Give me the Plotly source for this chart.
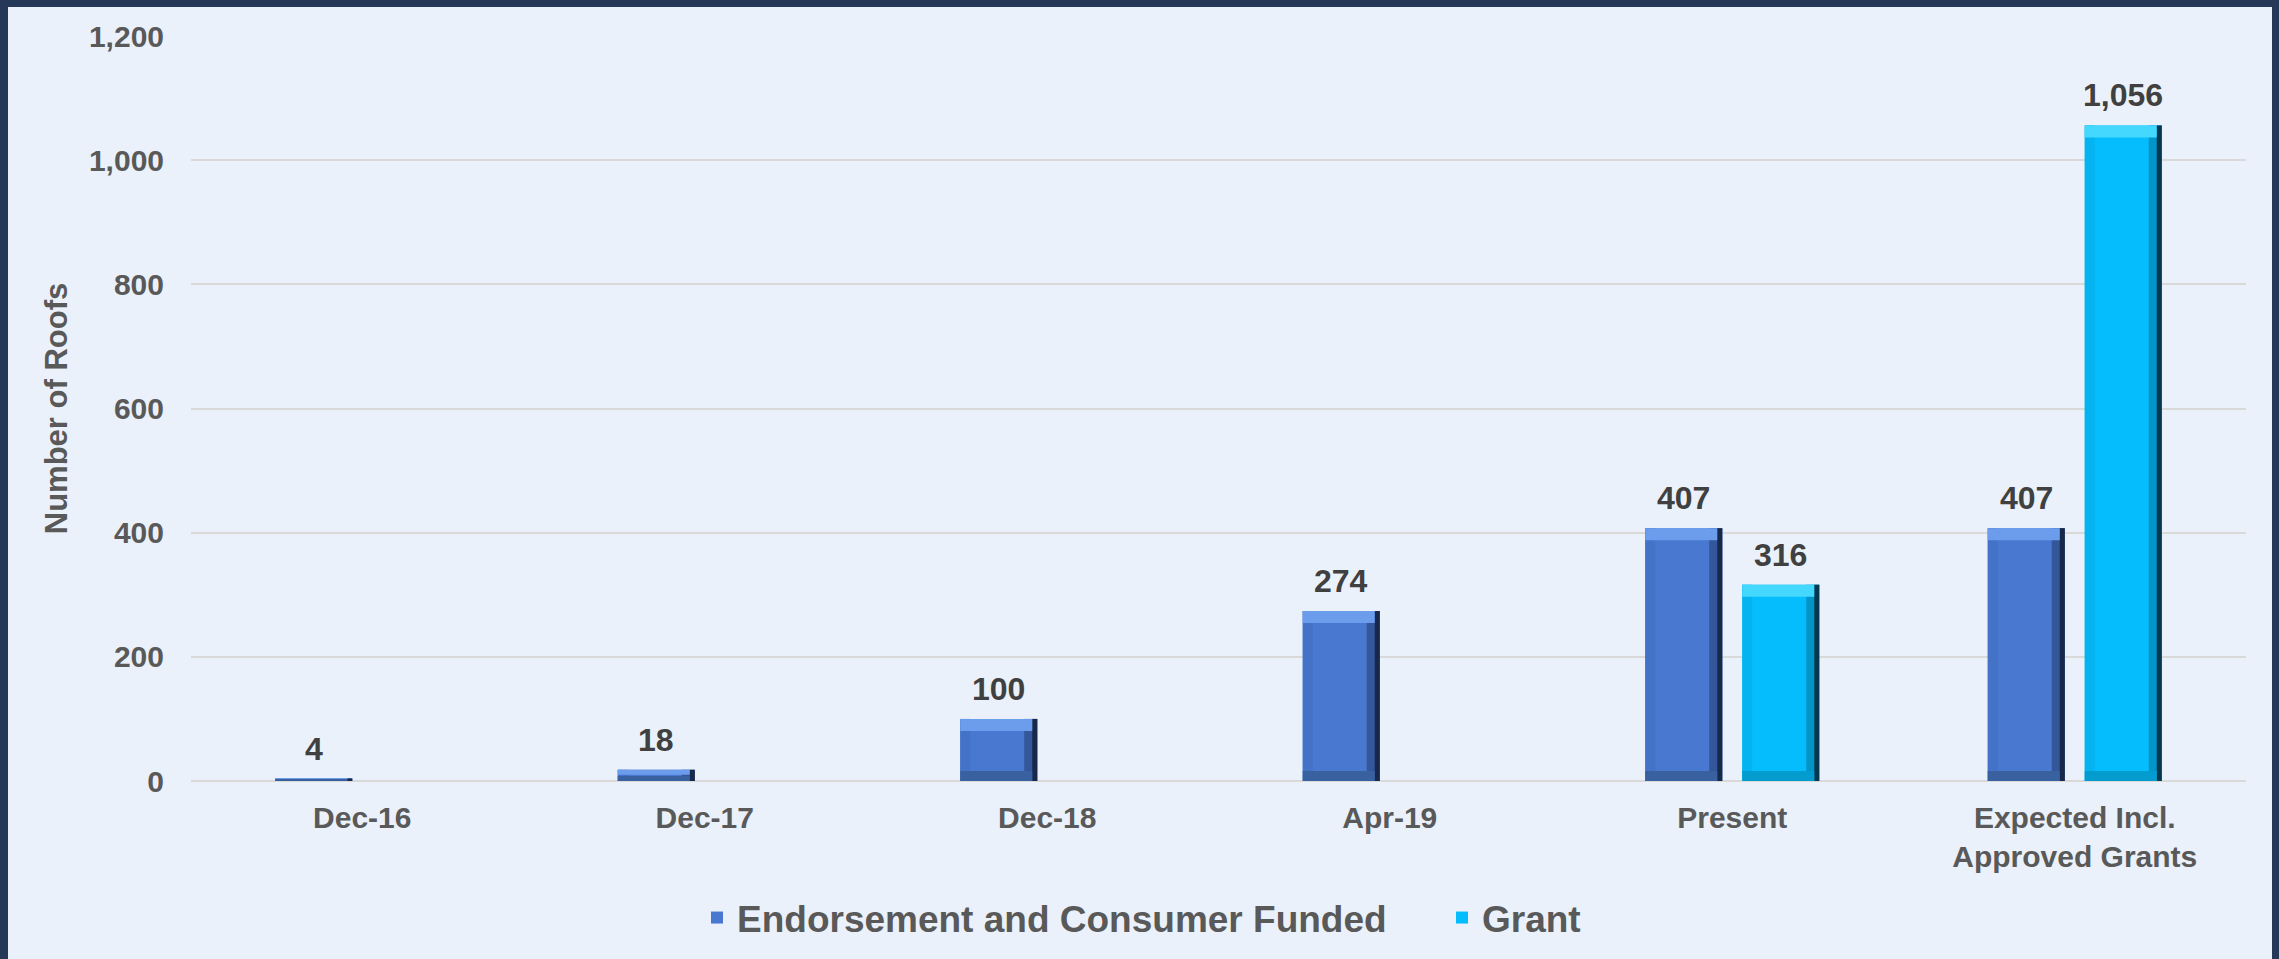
import plotly.graph_objects as go

categories = ["Dec-16", "Dec-17", "Dec-18", "Apr-19", "Present", "Expected Incl.<br>Approved Grants"]
endorsement = [4, 18, 100, 274, 407, 407]
grant = [None, None, None, None, 316, 1056]
series_names = ["Endorsement and Consumer Funded", "Grant"]
y_ticks = [0, 200, 400, 600, 800, 1000, 1200]

W, H = 2279, 959
ML, MR, MT, MB = 191, 33, 36, 178
PW = W - ML - MR
PH = H - MT - MB
YMAX = 1200
CAT_PX = PW / len(categories)
UPP = YMAX / PH  # data units per pixel

BG = "#EAF1FA"
TXT = "#595959"
LBL = "#404040"
FONT = "Liberation Sans, Arial, sans-serif"

styles = [
    dict(base="#4878CF", top="#6C9CEC", left="#4472C7", right="#34569A", edge="#17284A", bottom="#39609F"),
    dict(base="#05BDFC", top="#45D8FF", left="#04B3EF", right="#0394C8", edge="#03384E", bottom="#049BCF"),
]
bar_w_px = 77
offsets_px = [-87, 10]

fig = go.Figure()


def add_bevel_bar(vals, name, st, off_px):
    w = bar_w_px / CAT_PX
    off = off_px / CAT_PX
    xs = [c for c, v in zip(categories, vals) if v is not None]
    vs = [v for v in vals if v is not None]
    # body (legend entry)
    fig.add_trace(go.Bar(x=xs, y=vs, name=name, offset=off, width=w,
                         marker=dict(color=st["base"], line=dict(width=0)),
                         hoverinfo="x+y", showlegend=True))
    # left strip
    fig.add_trace(go.Bar(x=xs, y=vs, offset=off, width=10 / CAT_PX,
                         marker=dict(color=st["left"], line=dict(width=0)),
                         hoverinfo="skip", showlegend=False))
    # right strip
    fig.add_trace(go.Bar(x=xs, y=vs, offset=off + w - 13 / CAT_PX, width=13 / CAT_PX,
                         marker=dict(color=st["right"], line=dict(width=0)),
                         hoverinfo="skip", showlegend=False))
    fig.add_trace(go.Bar(x=xs, y=vs, offset=off + w - 5 / CAT_PX, width=5 / CAT_PX,
                         marker=dict(color=st["edge"], line=dict(width=0)),
                         hoverinfo="skip", showlegend=False))
    # top strip
    th = [min(12 * UPP, v * 0.45) for v in vs]
    fig.add_trace(go.Bar(x=xs, y=th, base=[v - t for v, t in zip(vs, th)], offset=off, width=w - 5 / CAT_PX,
                         marker=dict(color=st["top"], line=dict(width=0)),
                         hoverinfo="skip", showlegend=False))
    # bottom strip
    bh = [min(10 * UPP, v * 0.45) for v in vs]
    fig.add_trace(go.Bar(x=xs, y=bh, base=[0] * len(bh), offset=off, width=w - 5 / CAT_PX,
                         marker=dict(color=st["bottom"], line=dict(width=0)),
                         hoverinfo="skip", showlegend=False))
    # data labels
    for c, v in zip(xs, vs):
        fig.add_annotation(x=c, y=v, text=f"{v:,}", showarrow=False, yanchor="bottom",
                           xshift=off_px + bar_w_px / 2, yshift=10,
                           font=dict(family=FONT, size=32, color=LBL, weight="bold"))


add_bevel_bar(endorsement, series_names[0], styles[0], offsets_px[0])
add_bevel_bar(grant, series_names[1], styles[1], offsets_px[1])

# outer frame (left, top, right)
def px_x(p):
    return (p - ML) / PW

def px_y(p):
    return (H - MB - p) / PH

FRAME = "#263858"
for x0, x1, y0, y1 in [(0, 8, 0, H), (0, W, 0, 7), (2272, W, 0, H)]:
    fig.add_shape(type="rect", xref="paper", yref="paper",
                  x0=px_x(x0), x1=px_x(x1), y0=px_y(y1), y1=px_y(y0),
                  fillcolor=FRAME, line=dict(width=0), layer="above")

fig.update_layout(
    width=W, height=H,
    margin=dict(l=ML, r=MR, t=MT, b=MB, autoexpand=False),
    barmode="overlay",
    paper_bgcolor=BG, plot_bgcolor=BG,
    font=dict(family=FONT, color=TXT),
    showlegend=True,
    legend=dict(orientation="h", x=px_x(697), xanchor="left", y=px_y(918), yanchor="middle",
                font=dict(family=FONT, size=37, color=TXT, weight="bold"),
                entrywidth=700, entrywidthmode="pixels",
                bgcolor="rgba(0,0,0,0)", traceorder="normal", itemclick=False),
    xaxis=dict(type="category", categoryorder="array", categoryarray=categories,
               range=[-0.5, len(categories) - 0.5], showgrid=False, zeroline=False,
               showline=False, ticks="", ticklabelstandoff=16,
               tickfont=dict(family=FONT, size=30, color=TXT, weight="bold")),
    yaxis=dict(range=[0, YMAX], tickvals=y_ticks, tickformat=",", showgrid=True,
               gridcolor="#D9D9D9", gridwidth=2, zeroline=True, zerolinecolor="#D9D9D9",
               zerolinewidth=2, showline=False, ticks="", ticklabelstandoff=26,
               tickfont=dict(family=FONT, size=30, color=TXT, weight="bold"),
               title=dict(text="Number of Roofs", standoff=12,
                          font=dict(family=FONT, size=31, color=TXT, weight="bold"))),
)

fig.write_html("out.html")
